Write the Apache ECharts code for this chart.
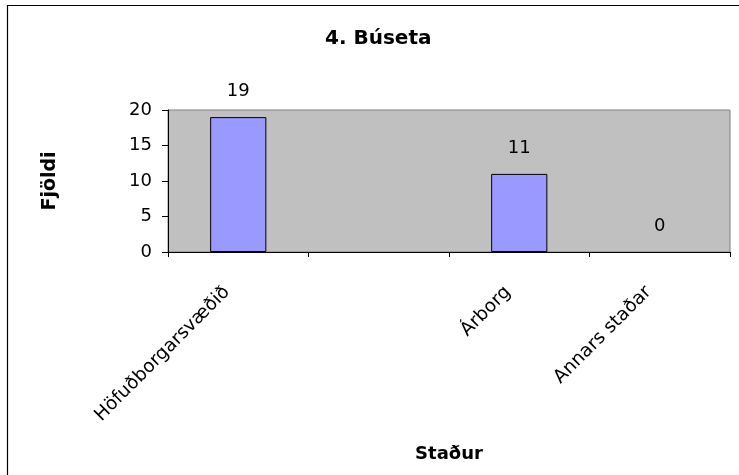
<!DOCTYPE html>
<html>
<head>
<meta charset="utf-8">
<script src="https://cdn.jsdelivr.net/npm/echarts@6/dist/echarts.min.js"></script>
<style>
html,body{margin:0;padding:0;background:#fff;}
#c{width:739px;height:475px;}
</style>
</head>
<body>
<div id="c"></div>
<script>
const titleText = '4. Búseta';
const categories = ['Höfuðborgarsvæðið', '', 'Árborg', 'Annars staðar'];
const values = [19, null, 11, 0];
const yTicks = { min: 0, max: 20, interval: 5 };
const xName = 'Staður';
const yName = 'Fjöldi';

const FONT = 'DejaVu Sans';
const barData = values.map(v => v === 0
  ? { value: v, itemStyle: { color: 'rgba(0,0,0,0)', borderWidth: 0 } }
  : v);

const chart = echarts.init(document.getElementById('c'), null, { renderer: 'canvas' });
chart.setOption({
  animation: false,
  backgroundColor: '#ffffff',
  title: {
    text: titleText,
    left: 320,
    top: 24,
    textStyle: { fontFamily: FONT, fontSize: 20, fontWeight: 'bold', color: '#000' }
  },
  graphic: [{
    type: 'rect',
    shape: { x: 7.5, y: 5.5, width: 760, height: 500 },
    style: { fill: 'none', stroke: '#000', lineWidth: 1.2 },
    silent: true,
    z: 100
  }],
  grid: {
    left: 168, right: 9, top: 110, bottom: 223,
    show: true,
    backgroundColor: '#C0C0C0',
    borderColor: '#808080',
    borderWidth: 1
  },
  xAxis: {
    type: 'category',
    data: categories,
    boundaryGap: true,
    name: xName,
    nameLocation: 'middle',
    nameGap: 193,
    nameTextStyle: { fontFamily: FONT, fontSize: 18, fontWeight: 'bold', color: '#000' },
    axisLine: { show: true, lineStyle: { color: '#000', width: 1 } },
    axisTick: { show: true, alignWithLabel: false, length: 5, inside: false, lineStyle: { color: '#000' } },
    axisLabel: {
      interval: 0,
      rotate: 45,
      margin: 26,
      padding: [0, 16, 0, 0],
      fontFamily: FONT, fontSize: 18.5, color: '#000'
    },
    splitLine: { show: false }
  },
  yAxis: {
    type: 'value',
    min: yTicks.min, max: yTicks.max, interval: yTicks.interval,
    name: yName,
    nameLocation: 'middle',
    nameGap: 108,
    nameRotate: 90,
    nameTextStyle: { fontFamily: FONT, fontSize: 19, fontWeight: 'bold', color: '#000' },
    axisLine: { show: true, lineStyle: { color: '#000', width: 1 } },
    axisTick: { show: true, length: 6, inside: false, lineStyle: { color: '#000' } },
    axisLabel: { margin: 16, fontFamily: FONT, fontSize: 18, color: '#000' },
    splitLine: { show: false }
  },
  series: [{
    type: 'bar',
    data: barData,
    barWidth: '40%',
    itemStyle: { color: '#9999FF', borderColor: '#000', borderWidth: 1 },
    label: {
      show: true,
      position: 'top',
      distance: 17,
      fontFamily: FONT, fontSize: 18, color: '#000'
    }
  }]
});
</script>
</body>
</html>
